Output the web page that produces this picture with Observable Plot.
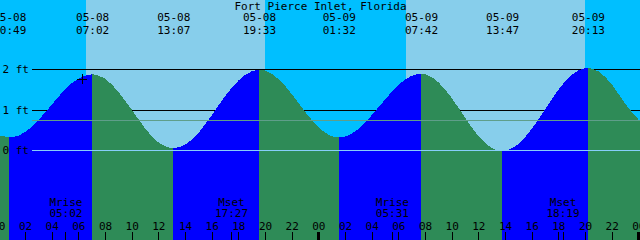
<!DOCTYPE html>
<html><head><meta charset="utf-8">
<script src="https://cdn.jsdelivr.net/npm/d3@7"></script>
<script src="https://cdn.jsdelivr.net/npm/@observablehq/plot@0.6"></script>
<style>html,body{margin:0;padding:0;background:#00bfff;overflow:hidden}</style>
</head><body><div id="chart"></div>
<script>
const title = "Fort Pierce Inlet, Florida";
// hours since 05-08 00:00 and water level (ft)
const tideHours = [0, 0.817, 1, 2, 3, 4, 5, 6, 7.033, 8, 9, 10, 11, 12, 13, 13.117, 14, 15, 16, 17, 18, 19, 19.55, 20, 21, 22, 23, 24, 25, 25.533, 26, 27, 28, 29, 30, 31, 31.7, 32, 33, 34, 35, 36, 37, 37.783, 38, 39, 40, 41, 42, 43, 44, 44.217, 45, 46, 47, 48, 48.5];
const tideFeet  = [0.37, 0.31, 0.315, 0.44, 0.74, 1.12, 1.50, 1.77, 1.88, 1.77, 1.44, 1.00, 0.54, 0.19, 0.045, 0.04, 0.13, 0.42, 0.86, 1.33, 1.72, 1.95, 1.99, 1.97, 1.76, 1.39, 0.95, 0.57, 0.34, 0.31, 0.33, 0.52, 0.86, 1.25, 1.61, 1.84, 1.89, 1.88, 1.68, 1.29, 0.80, 0.35, 0.05, -0.03, -0.02, 0.15, 0.52, 1.00, 1.49, 1.86, 2.03, 2.04, 1.95, 1.63, 1.15, 0.76, 0.60];
const eventHours = [0.817, 7.033, 13.117, 19.55, 25.533, 31.7, 37.783, 44.217];
const eventDates = ["05-08", "05-08", "05-08", "05-08", "05-09", "05-09", "05-09", "05-09"];
const eventTimes = ["00:49", "07:02", "13:07", "19:33", "01:32", "07:42", "13:47", "20:13"];
const sunriseHours = [6.583, 30.583];
const sunsetHours = [20.0, 44.0];
const moonHours = [5.033, 17.45, 29.517, 42.317];
const moonNames = ["Mrise", "Mset", "Mrise", "Mset"];
const moonTimes = ["05:02", "17:27", "05:31", "18:19"];
const hourTicks = [0, 2, 4, 6, 8, 10, 12, 14, 16, 18, 20, 22, 24, 26, 28, 30, 32, 34, 36, 38, 40, 42, 44, 46, 48];
const hourLabels = ["00","02","04","06","08","10","12","14","16","18","20","22","00","02","04","06","08","10","12","14","16","18","20","22","00"];
const midnightHours = [24, 48];
const levelFeet = [2, 1, 0];
const levelLabels = ["2 ft", "1 ft", "0 ft"];
const gridFeet = [2, 1];
const datumFeet = [0];
const mslFeet = [0.74];
const nowHour = [6.25];
const nowFeet = [1.77];

const xDomain = [0.125, 48.125];
const yDomain = [-2.232, 3.719];

const C = {night: "#00bfff", day: "#87ceeb", rise: "#0000ff", fall: "#2e8b57", datum: "#87cefa", msl: "#5f9e8a"};
const font = "DejaVu Sans Mono";

// day / night bands
const bands = [];
let prev = xDomain[0];
sunriseHours.forEach((sr, i) => {
  bands.push({a: prev, b: sr, c: C.night});
  bands.push({a: sr, b: sunsetHours[i], c: C.day});
  prev = sunsetHours[i];
});
bands.push({a: prev, b: xDomain[1], c: C.night});

// water segments split at high / low tides
const tide = tideHours.map((t, i) => ({t, h: tideFeet[i]}));
const cuts = [tideHours[0], ...eventHours, tideHours[tideHours.length - 1]];
const water = [];
for (let k = 0; k < cuts.length - 1; k++) {
  const a = cuts[k], b = cuts[k + 1];
  const pts = tide.filter(d => d.t >= a - 1e-9 && d.t <= b + 1e-9);
  const rise = pts[pts.length - 1].h > pts[0].h;
  pts.forEach(d => water.push({...d, seg: k, fill: rise ? C.rise : C.fall}));
}

const events = eventHours.map((t, i) => ({t, date: eventDates[i], time: eventTimes[i]}));
const moons = moonHours.map((t, i) => ({t, name: moonNames[i], time: moonTimes[i]}));
const hours = hourTicks.map((t, i) => ({t, label: hourLabels[i]}));
const levels = levelFeet.map((h, i) => ({h, label: levelLabels[i]}));

const txt = {fontFamily: font, fontSize: 11, fill: "black", lineAnchor: "middle", letterSpacing: "0.4px"};
const crisp = {shapeRendering: "crispEdges"};

const plot = Plot.plot({
  width: 640, height: 240,
  marginTop: 0, marginRight: 0, marginBottom: 0, marginLeft: 0,
  x: {domain: xDomain, axis: null},
  y: {domain: yDomain, axis: null},
  style: {background: C.night, overflow: "hidden"},
  marks: [
    Plot.rect(bands, {x1: "a", x2: "b", fill: "c", ...crisp}),
    Plot.ruleY(gridFeet, {y: d => d, stroke: "black", insetLeft: 32, ...crisp}),
    Plot.areaY(water, {x: "t", y1: yDomain[0], y2: "h", z: "seg", fill: "fill", curve: "monotone-x", clip: true, ...crisp}),
    Plot.ruleY(mslFeet, {y: d => d, stroke: C.msl, insetLeft: 32, ...crisp}),
    Plot.ruleY(datumFeet, {y: d => d, stroke: C.datum, insetLeft: 32, ...crisp}),
    Plot.dot(nowHour.map((t, i) => ({t, h: nowFeet[i]})), {x: "t", y: "h", symbol: "plus", r: 3.2, stroke: "black", strokeWidth: 1, ...crisp}),
    Plot.text([title], {...txt, text: d => d, frameAnchor: "top", dy: 5.5}),
    Plot.text(events, {...txt, x: "t", text: "date", frameAnchor: "top", dy: 17}),
    Plot.text(events, {...txt, x: "t", text: "time", frameAnchor: "top", dy: 29.5}),
    Plot.text(levels, {...txt, y: "h", text: "label", frameAnchor: "left", textAnchor: "start", dx: 2}),
    Plot.text(moons, {...txt, x: "t", text: "name", frameAnchor: "bottom", dy: -38.5}),
    Plot.text(moons, {...txt, x: "t", text: "time", frameAnchor: "bottom", dy: -27}),
    Plot.text(hours, {...txt, x: "t", text: "label", frameAnchor: "bottom", dy: -14.5}),
    Plot.ruleX(hourTicks, {x: d => d, stroke: "black", insetTop: 232, ...crisp}),
    Plot.ruleX(moonHours, {x: d => d, stroke: "black", insetTop: 232, ...crisp}),
    Plot.ruleX(midnightHours, {x: d => d, stroke: "black", strokeWidth: 3, insetTop: 232, ...crisp})
  ]
});
document.getElementById("chart").appendChild(plot);
</script>
</body></html>
